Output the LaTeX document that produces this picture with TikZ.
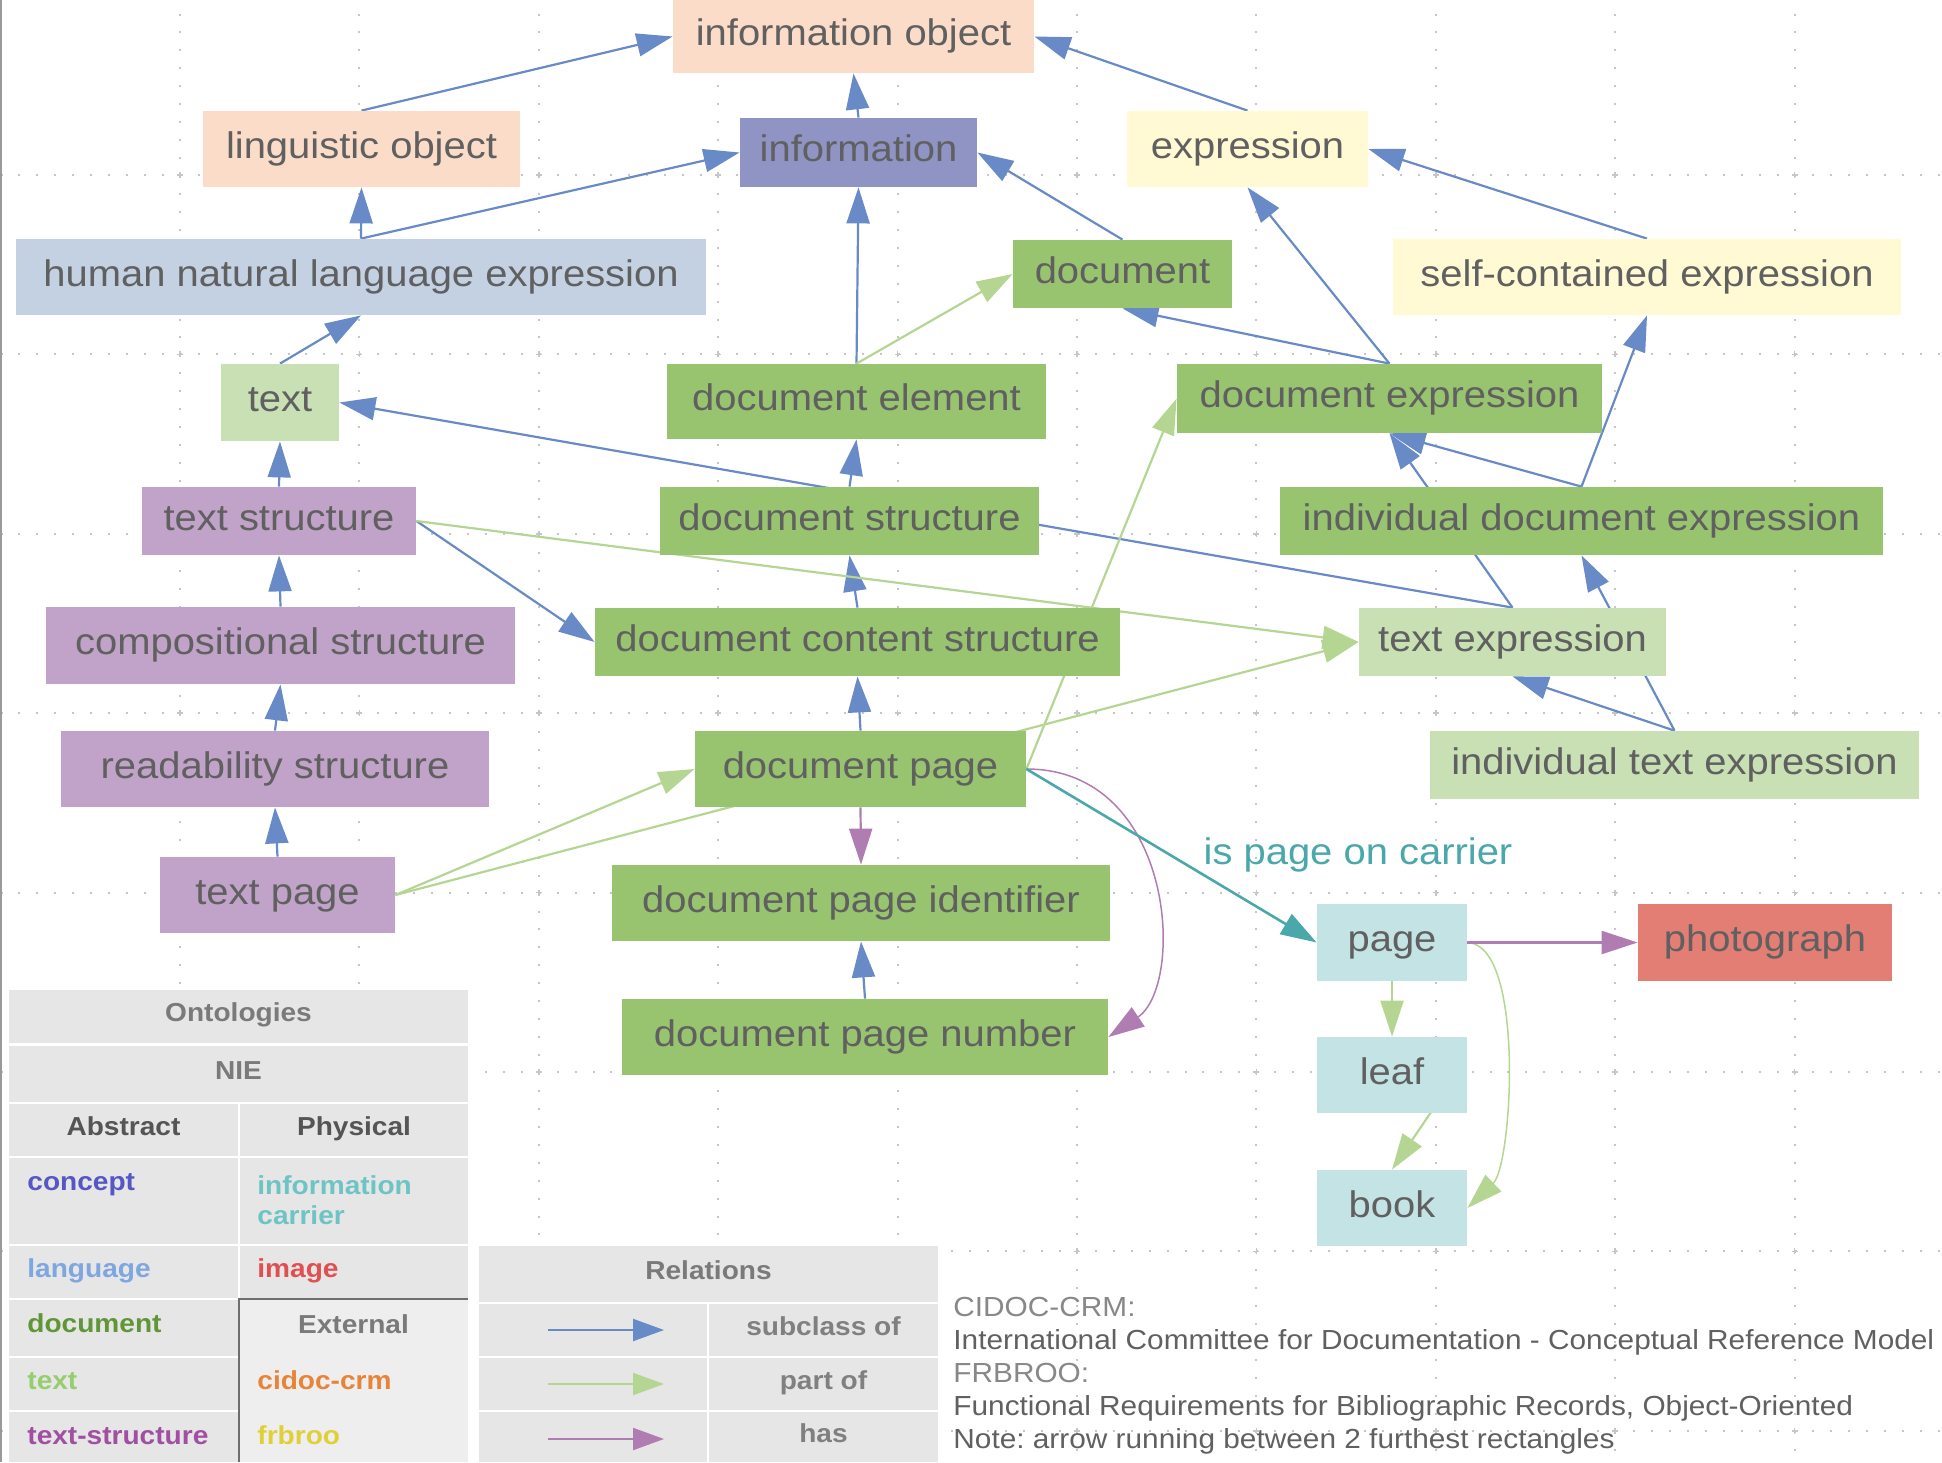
\documentclass[tikz,border=0pt]{standalone}
\usepackage{fontspec}
\setmainfont{Liberation Sans}[FakeStretch=1.08]
\usetikzlibrary{arrows.meta}
\definecolor{ink}{RGB}{96,96,96}
\definecolor{peachF}{RGB}{250,220,200}
\definecolor{infoF}{RGB}{143,148,196}
\definecolor{exprF}{RGB}{255,250,212}
\definecolor{langF}{RGB}{196,209,227}
\definecolor{textF}{RGB}{200,224,180}
\definecolor{docF}{RGB}{152,196,112}
\definecolor{structF}{RGB}{193,162,200}
\definecolor{carrierF}{RGB}{196,227,229}
\definecolor{photoF}{RGB}{226,126,116}
\definecolor{subclassC}{RGB}{104,138,198}
\definecolor{partofC}{RGB}{181,213,146}
\definecolor{hasC}{RGB}{176,125,178}
\definecolor{carrierC}{RGB}{74,168,170}
\definecolor{cellF}{RGB}{230,230,230}
\definecolor{extF}{RGB}{238,238,238}
\definecolor{extlineC}{RGB}{110,110,110}
\definecolor{headC}{RGB}{122,122,122}
\definecolor{subheadC}{RGB}{85,85,85}
\definecolor{relC}{RGB}{128,128,128}
\definecolor{noteC}{RGB}{136,136,136}
\definecolor{conceptC}{RGB}{86,86,196}
\definecolor{infocarrierC}{RGB}{110,196,196}
\definecolor{languageC}{RGB}{126,166,224}
\definecolor{imageC}{RGB}{224,80,80}
\definecolor{documentC}{RGB}{96,150,56}
\definecolor{textC}{RGB}{150,205,110}
\definecolor{textstructC}{RGB}{160,80,160}
\definecolor{cidocC}{RGB}{232,132,56}
\definecolor{frbrooC}{RGB}{224,208,56}
\pgfdeclarelayer{grid}
\pgfdeclarelayer{edges}
\pgfsetlayers{grid,edges,main}
\tikzset{
  cls/.style={fill=#1, text=ink, inner sep=0pt,
    font=\fontsize{18.5}{22}\selectfont, text height=0.92em, text depth=0em},
  wh/.style 2 args={minimum width=#1*0.5pt, minimum height=#2*0.5pt},
  subclass/.style={draw=subclassC, line width=1.1pt, -{Triangle[length=18pt,width=11.5pt]}},
  partof/.style={draw=partofC, line width=1.1pt, -{Triangle[length=18pt,width=11.5pt]}},
  has/.style={draw=hasC, line width=1.1pt, -{Triangle[length=18pt,width=11.5pt]}},
  carrier/.style={draw=carrierC, line width=1.3pt, -{Triangle[length=18pt,width=11.5pt]}},
  griddot/.style={draw=gray!45, line width=1pt, dash pattern=on 1pt off 7.97pt},
  cell/.style={fill=#1, inner sep=0pt, text=headC,
    font=\fontsize{13}{15}\selectfont\bfseries, text height=0.75em, text depth=0.25em},
  item/.style={text=#1, inner sep=0pt, anchor=base west, font=\fontsize{13}{15}\selectfont\bfseries},
  legarrow/.style={draw=#1, line width=1.1pt, -{Triangle[length=15.5pt,width=11pt]}},
}
\begin{document}
\begin{tikzpicture}[x=0.5pt,y=-0.5pt]
\useasboundingbox (0,0) rectangle (1942,1462);

% background grid
\begin{pgfonlayer}{grid}
\foreach \gx in {0.5,179.9,...,1942}
  \draw[griddot] (\gx,-4.4) -- (\gx,1462);
\foreach \gy in {-4.4,175,...,1462}
  \draw[griddot] (0.5,\gy) -- (1942,\gy);
\foreach \gx in {179.9,359.3,...,1942}
  \foreach \gy in {175,354.4,...,1462}
    \draw[gray!45, line width=0.8pt] (\gx-3,\gy) -- (\gx+3,\gy) (\gx,\gy-3) -- (\gx,\gy+3);
\draw[gray!80, line width=1pt] (1,0) -- (1,1462);
\end{pgfonlayer}

% classes
\node[cls=peachF, wh={361}{73}] (infoobj) at (853.5,36.5) {information object};
\node[cls=peachF, wh={317}{76}] (lingobj) at (361.5,149) {linguistic object};
\node[cls=infoF, wh={237}{69}] (information) at (858.5,152.5) {information};
\node[cls=exprF, wh={241}{76}] (expression) at (1247.5,149) {expression};
\node[cls=langF, wh={690}{76}] (humanexpr) at (361,277) {human natural language expression};
\node[cls=docF, wh={219}{68}] (document) at (1122.5,274) {document};
\node[cls=exprF, wh={508}{76}] (selfexpr) at (1647,277) {self-contained expression};
\node[cls=textF, wh={118}{77}] (text) at (280,402.5) {text};
\node[cls=docF, wh={379}{75}] (docelement) at (856.5,401.5) {document element};
\node[cls=docF, wh={425}{69}] (docexpr) at (1389.5,398.5) {document expression};
\node[cls=structF, wh={274}{68}] (textstruct) at (279,521) {text structure};
\node[cls=docF, wh={379}{68}] (docstruct) at (849.5,521) {document structure};
\node[cls=docF, wh={603}{68}] (inddocexpr) at (1581.5,521) {individual document expression};
\node[cls=structF, wh={469}{77}] (compstruct) at (280.5,645.5) {compositional structure};
\node[cls=docF, wh={525}{68}] (doccontent) at (857.5,642) {document content structure};
\node[cls=textF, wh={307}{68}] (textexpr) at (1512.5,642) {text expression};
\node[cls=structF, wh={428}{76}] (readstruct) at (275,769) {readability structure};
\node[cls=docF, wh={331}{76}] (docpage) at (860.5,769) {document page};
\node[cls=textF, wh={489}{68}] (indtextexpr) at (1674.5,765) {individual text expression};
\node[cls=structF, wh={235}{76}] (textpage) at (277.5,895) {text page};
\node[cls=docF, wh={498}{76}] (docpageid) at (861,903) {document page identifier};
\node[cls=docF, wh={486}{76}] (docpagenum) at (865,1037) {document page number};
\node[cls=carrierF, wh={150}{77}] (page) at (1392,942.5) {page};
\node[cls=photoF, wh={254}{77}] (photograph) at (1765,942.5) {photograph};
\node[cls=carrierF, wh={150}{76}] (leaf) at (1392,1075) {leaf};
\node[cls=carrierF, wh={150}{76}] (book) at (1392,1208) {book};

\node[inner sep=0pt, text=carrierC, font=\fontsize{18.5}{22}\selectfont,
  text height=0.92em, text depth=0em] (carrierlbl) at (1358,855) {is page on carrier};

% relations
\begin{pgfonlayer}{edges}
\draw[subclass] (lingobj.north) -- (infoobj.west);
\draw[subclass] (expression.north) -- (infoobj.east);
\draw[subclass] (information.north) -- (infoobj.south);
\draw[subclass] (humanexpr.north) -- (lingobj.south);
\draw[subclass] (humanexpr.north) -- (information.west);
\draw[subclass] (document.north) -- (information.east);
\draw[subclass] (docelement.north) -- (information.south);
\draw[subclass] (text.north) -- (humanexpr.south);
\draw[subclass] (selfexpr.north) -- (expression.east);
\draw[subclass] (docexpr.north) -- (expression.south);
\draw[subclass] (docexpr.north) -- (document.south);
\draw[subclass] (textstruct.north) -- (text.south);
\draw[subclass] (textexpr.north) -- (text.east);
\draw[subclass] (docstruct.north) -- (docelement.south);
\draw[subclass] (textexpr.north) -- (docexpr.south);
\draw[subclass] (inddocexpr.north) -- (docexpr.south);
\draw[subclass] (inddocexpr.north) -- (selfexpr.south);
\draw[subclass] (compstruct.north) -- (textstruct.south);
\draw[subclass] (textstruct.east) -- (doccontent.west);
\draw[subclass] (doccontent.north) -- (docstruct.south);
\draw[subclass] (readstruct.north) -- (compstruct.south);
\draw[subclass] (docpage.north) -- (doccontent.south);
\draw[subclass] (indtextexpr.north) -- (textexpr.south);
\draw[subclass] (indtextexpr.north) -- (inddocexpr.south);
\draw[subclass] (textpage.north) -- (readstruct.south);
\draw[subclass] (docpagenum.north) -- (docpageid.south);
% part of
\draw[partof] (docelement.north) -- (document.west);
\draw[partof] (textstruct.east) -- (textexpr.west);
\draw[partof] (docpage.east) -- (docexpr.west);
\draw[partof] (textpage.east) -- (docpage.west);
\draw[partof] (textpage.east) -- (textexpr.west);
\draw[partof] (page.south) -- (leaf.north);
\draw[partof] ([shift={(-18,10)}]leaf.east) -- (book.north);
\draw[partof, line width=0.75pt] (page.east) .. controls +(58,2) and +(45,-43) .. (book.east);
% has
\draw[has] (docpage.south) -- (docpageid.north);
\draw[has, line width=0.75pt] (docpage.east) .. controls +(149,0) and +(77,-52) .. (docpagenum.east);
\draw[has] (page.east) -- (photograph.west);
% carrier
\draw[carrier] (docpage.east) -- (page.west);
\end{pgfonlayer}

% legend: ontologies
\fill[white] (8,986) rectangle (470,1462);
\node[cell=cellF, wh={459}{53}] (ontohead) at (238.5,1016.5) {Ontologies};
\node[cell=cellF, wh={459}{56}] (niehead) at (238.5,1074) {NIE};
\node[cell=cellF, wh={229}{52}, text=subheadC] (abstracthead) at (123.5,1130) {Abstract};
\node[cell=cellF, wh={228}{52}, text=subheadC] (physicalhead) at (354,1130) {Physical};
\node[cell=cellF, wh={229}{86}] (conceptcell) at (123.5,1201) {};
\node[cell=cellF, wh={228}{86}] (carriercell) at (354,1201) {};
\node[cell=cellF, wh={229}{52}] (languagecell) at (123.5,1272) {};
\node[cell=cellF, wh={228}{52}] (imagecell) at (354,1272) {};
\node[cell=cellF, wh={229}{56}] (documentcell) at (123.5,1328) {};
\node[cell=cellF, wh={229}{52}] (textcell) at (123.5,1384) {};
\node[cell=cellF, wh={229}{50}] (structcell) at (123.5,1437) {};
\node[cell=extF, wh={229}{58}] (externalhead) at (353.5,1328) {External};
\node[cell=extF, wh={229}{54}] (cidoccell) at (353.5,1384) {};
\node[cell=extF, wh={229}{51}] (frbroocell) at (353.5,1436.5) {};
\draw[extlineC, line width=1pt] (frbroocell.south west) -- (externalhead.north west) -- (externalhead.north east);

\node[item=conceptC] (concept) at (27,1190) {concept};
\node[item=infocarrierC, anchor=north west, align=left, font=\fontsize{13}{15}\selectfont\bfseries]
  (infocarrier) at (257,1175) {information\\carrier};
\node[item=languageC] (language) at (27,1277) {language};
\node[item=imageC] (image) at (257,1277) {image};
\node[item=documentC] (documentitem) at (27,1332) {document};
\node[item=textC] (textitem) at (27,1389) {text};
\node[item=cidocC] (cidoc) at (257,1389) {cidoc-crm};
\node[item=textstructC] (textstructitem) at (27,1444) {text-structure};
\node[item=frbrooC] (frbroo) at (257,1444) {frbroo};

% legend: relations
\fill[white] (477,1244) rectangle (940,1462);
\node[cell=cellF, wh={459}{56}] (relhead) at (708.5,1274) {Relations};
\node[cell=cellF, wh={228}{52}] (subarrowcell) at (593,1330) {};
\node[cell=cellF, wh={229}{52}, text=relC] (subcell) at (823.5,1330) {subclass of};
\node[cell=cellF, wh={228}{52}] (partarrowcell) at (593,1384) {};
\node[cell=cellF, wh={229}{52}, text=relC] (partcell) at (823.5,1384) {part of};
\node[cell=cellF, wh={228}{50}] (hasarrowcell) at (593,1437) {};
\node[cell=cellF, wh={229}{50}, text=relC] (hascell) at (823.5,1437) {has};
\coordinate (subA) at (548,1330);
\coordinate (subB) at (664,1330);
\coordinate (partA) at (548,1384);
\coordinate (partB) at (664,1384);
\coordinate (hasA) at (548,1439);
\coordinate (hasB) at (664,1439);
\draw[legarrow=subclassC] (subA) -- (subB);
\draw[legarrow=partofC] (partA) -- (partB);
\draw[legarrow=hasC] (hasA) -- (hasB);

% abbreviations
\node[anchor=north west, inner sep=0pt, align=left, text=ink, font=\fontsize{13.8}{16.5}\selectfont\frenchspacing] (notes) at (953,1297) {
  \textcolor{noteC}{CIDOC-CRM:}\\
  International Committee for Documentation - Conceptual Reference Model\\
  \textcolor{noteC}{FRBROO:}\\
  Functional Requirements for Bibliographic Records, Object-Oriented\\
  Note: arrow running between 2 furthest rectangles
};

\end{tikzpicture}
\end{document}
